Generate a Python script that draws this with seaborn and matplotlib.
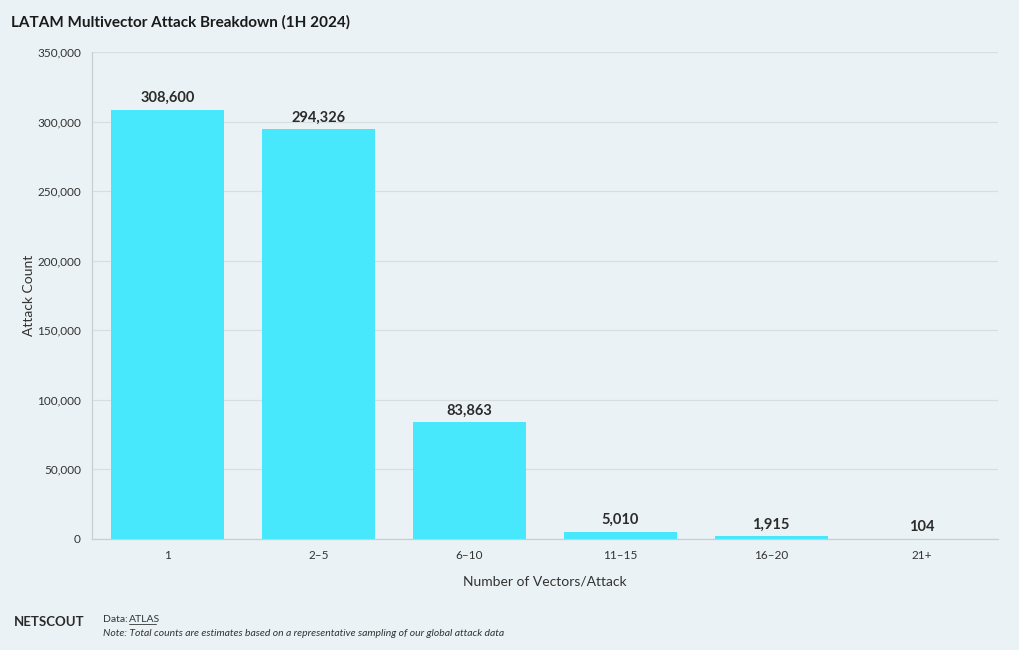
import matplotlib
matplotlib.use("Agg")
import matplotlib.pyplot as plt
import seaborn as sns
import pandas as pd
from matplotlib.ticker import FuncFormatter

categories = ["1", "2\u20135", "6\u201310", "11\u201315", "16\u201320", "21+"]
counts = [308600, 294326, 83863, 5010, 1915, 104]

bg = "#ebf2f5"
bar_color = "#48e8fc"
sns.set_theme(style="white")
plt.rcParams["font.family"] = ["Lato", "DejaVu Sans"]

df = pd.DataFrame({"Vectors": categories, "Count": counts})

fig = plt.figure(figsize=(10.2, 6.5), dpi=100, facecolor=bg)
ax = fig.add_axes([0.0902, 0.1708, 0.8878, 0.7492])
ax.set_facecolor(bg)

sns.barplot(data=df, x="Vectors", y="Count", color=bar_color, width=0.75,
            saturation=1, ax=ax, zorder=3, linewidth=0, edgecolor="none")

ax.set_ylim(0, 350000)
ax.set_xlim(-0.5, len(categories) - 0.5)
ax.set_yticks(range(0, 350001, 50000))
ax.yaxis.set_major_formatter(FuncFormatter(lambda v, p: f"{int(v):,}"))
ax.grid(axis="y", color="#d8dde0", linewidth=0.8, zorder=0)
ax.grid(axis="x", visible=False)

for s in ["top", "right"]:
    ax.spines[s].set_visible(False)
for s in ["left", "bottom"]:
    ax.spines[s].set_color("#c8ced2")
    ax.spines[s].set_linewidth(0.9)

ax.tick_params(axis="both", which="both", length=5, color="#c8ced2",
               labelsize=8.5, labelcolor="#333333", pad=3)

ax.set_xlabel("Number of Vectors/Attack", fontsize=10, color="#333333")
ax.set_ylabel("Attack Count", fontsize=10, color="#333333")
ax.xaxis.set_label_coords(0.5, (539 - 582) / 487)
ax.xaxis.label.set_va("center")
ax.yaxis.set_label_coords((29 - 92) / 906, 0.5)
ax.yaxis.label.set_va("center")

for i, v in enumerate(counts):
    ax.annotate(f"{v:,}", (i, v), xytext=(0, 3.5), textcoords="offset points",
                ha="center", va="bottom", fontsize=10.5, fontweight="bold",
                color="#2b2b2b", zorder=4)

fig.text(11 / 1020, 1 - 22 / 650, "LATAM Multivector Attack Breakdown (1H 2024)",
         fontsize=11, fontweight="bold", color="#1a1a1a", va="center", ha="left")
fig.text(14 / 1020, 1 - 622 / 650, "NETSCOUT", fontsize=9.5, fontweight="bold",
         color="#2a2a2a", va="center", ha="left")
fig.text(103 / 1020, 1 - 619 / 650, "Data:", fontsize=7.5,
         color="#333333", va="center", ha="left")
fig.text(129 / 1020, 1 - 619 / 650, "ATLAS", fontsize=7.5,
         color="#333333", va="center", ha="left")
fig.add_artist(plt.Line2D([129 / 1020, 156 / 1020], [1 - 623.5 / 650, 1 - 623.5 / 650],
                          color="#333333", linewidth=0.6))
fig.text(103 / 1020, 1 - 634 / 650,
         "Note: Total counts are estimates based on a representative sampling of our global attack data",
         fontsize=7.5, style="italic", color="#333333", va="center", ha="left")

fig.savefig("out.png", dpi=100, facecolor=bg)
